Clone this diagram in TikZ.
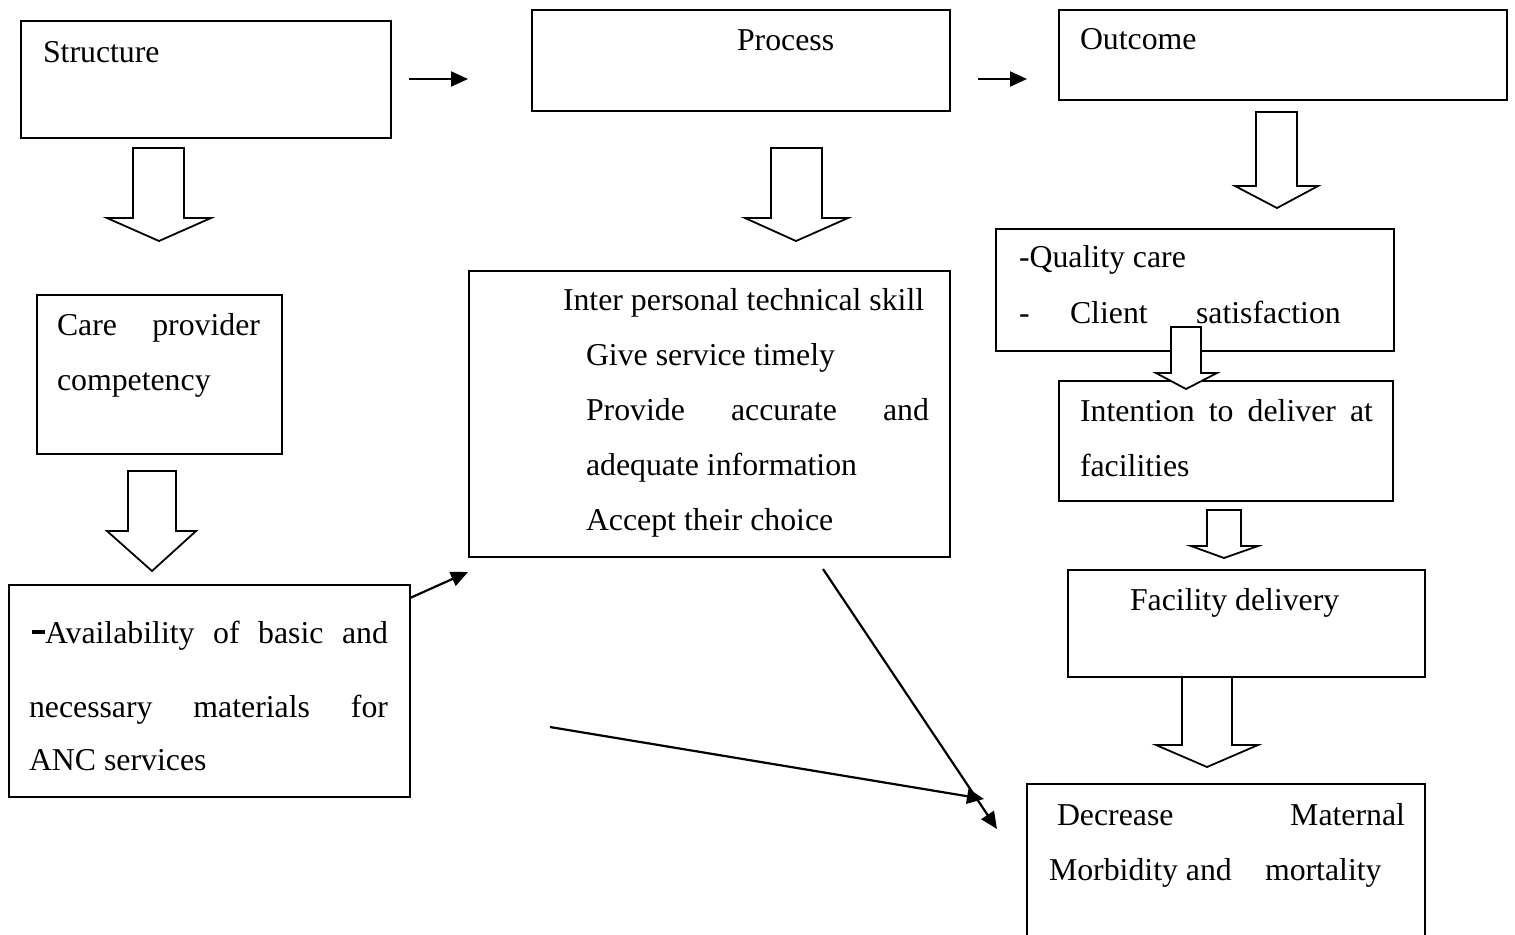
\documentclass[tikz,border=0pt]{standalone}
\usepackage{fontspec}
\setmainfont{Liberation Serif}
\usetikzlibrary{arrows.meta}
\newlength\pxu \pxu=0.5pt
\tikzset{
  box/.style={draw, line width=1pt, inner sep=0pt, outer sep=0pt, anchor=north west, fill=white},
  txt/.style={anchor=base west, inner sep=0pt, outer sep=0pt, font=\fontsize{15.9}{19}\selectfont},
  conn/.style={line width=1.1pt, -{Triangle[length=8.5pt,width=7.5pt]}},
  barrow/.style={draw, line width=0.9pt, fill=white, line join=miter}
}
\newcommand{\bx}[5]{\node[box, minimum width={(#4-#2)*\pxu}, minimum height={(#5-#3)*\pxu}] (#1) at (#2,#3) {};}
\begin{document}
\begin{tikzpicture}[x=0.5pt,y=-0.5pt]
\useasboundingbox (0,0) rectangle (1515,934);
% boxes
\bx{st}{21}{21}{391}{138}
\bx{pr}{532}{10}{950}{111}
\bx{oc}{1059}{10}{1507}{100}
\bx{cp}{37}{295}{282}{454}
\bx{av}{9}{585}{410}{797}
\bx{ip}{469}{271}{950}{557}
\bx{qc}{996}{229}{1394}{351}
\bx{in}{1059}{381}{1393}{501}
\bx{fd}{1068}{570}{1425}{677}
\bx{dm}{1027}{784}{1425}{960}
% block arrows
\draw[barrow] (133,148) -- (184,148) -- (184,218) -- (211,218) -- (159,241) -- (107,218) -- (133,218) -- cycle;
\draw[barrow] (771,148) -- (822,148) -- (822,218) -- (848,218) -- (796,241) -- (745,218) -- (771,218) -- cycle;
\draw[barrow] (1256,112) -- (1297,112) -- (1297,186) -- (1318,186) -- (1277,208) -- (1235,186) -- (1256,186) -- cycle;
\draw[barrow] (128,471) -- (176,471) -- (176,531) -- (196,531) -- (152,571) -- (107,531) -- (128,531) -- cycle;
\draw[barrow] (1171,327) -- (1201,327) -- (1201,373) -- (1217,373) -- (1186,389) -- (1156,373) -- (1171,373) -- cycle;
\draw[barrow] (1207,510) -- (1241,510) -- (1241,546) -- (1258,546) -- (1224,558) -- (1191,546) -- (1207,546) -- cycle;
\draw[barrow] (1182,677) -- (1232,677) -- (1232,745) -- (1258,745) -- (1207,767) -- (1156,745) -- (1182,745) -- cycle;
% texts
\node[txt] (t1) at (43,62) {Structure};
\node[txt] (t2) at (737,50) {Process};
\node[txt] (t3) at (1080,49) {Outcome};
\node[txt] (t4) at (57,335) {\makebox[203\pxu][s]{Care provider}};
\node[txt] (t5) at (57,390) {competency};
\node[txt] (t6) at (32,643) {\makebox[356\pxu][s]{\rule[4.5pt]{6.5pt}{2pt}Availability of basic and}};
\node[txt] (t7) at (29,717) {\makebox[359\pxu][s]{necessary materials for}};
\node[txt] (t8) at (29,770) {ANC services};
\node[txt] (t9) at (563,310) {Inter personal technical skill};
\node[txt] (t10) at (586,365) {Give service timely};
\node[txt] (t11) at (586,420) {\makebox[343\pxu][s]{Provide accurate and}};
\node[txt] (t12) at (586,475) {adequate information};
\node[txt] (t13) at (586,530) {Accept their choice};
\node[txt] (t14) at (1019,267) {-Quality care};
\node[txt] (t15) at (1019,323) {-};
\node[txt] (t16) at (1070,323) {Client};
\node[txt] (t17) at (1196,323) {satisfaction};
\node[txt] (t18) at (1080,421) {\makebox[293\pxu][s]{Intention to deliver at}};
\node[txt] (t19) at (1080,476) {facilities};
\node[txt] (t20) at (1130,610) {Facility delivery};
\node[txt] (t21) at (1057,825) {\makebox[348\pxu][s]{Decrease Maternal}};
\node[txt] (t22) at (1049,880) {Morbidity and};
\node[txt] (t23) at (1265,880) {mortality};
% connectors
\coordinate (a1s) at (409,79); \coordinate (a1e) at (468,79);
\coordinate (a2s) at (978,79); \coordinate (a2e) at (1027,79);
\coordinate (a3s) at (410,598); \coordinate (a3e) at (468,572);
\coordinate (a4s) at (823,569); \coordinate (a4e) at (997,829);
\coordinate (a5s) at (550,727); \coordinate (a5e) at (984,799);
\draw[conn] (a1s) -- (a1e);
\draw[conn] (a2s) -- (a2e);
\draw[conn] (a3s) -- (a3e);
\draw[conn] (a4s) -- (a4e);
\draw[conn] (a5s) -- (a5e);
\end{tikzpicture}
\end{document}
